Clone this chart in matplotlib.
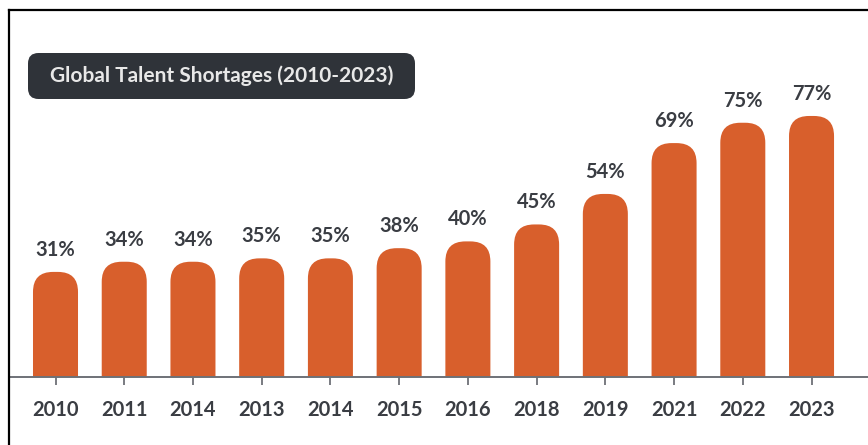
import matplotlib
matplotlib.use("Agg")
import matplotlib.pyplot as plt
from matplotlib.patches import FancyBboxPatch
from matplotlib.lines import Line2D

# Data
years = ["2010", "2011", "2014", "2013", "2014", "2015", "2016",
         "2018", "2019", "2021", "2022", "2023"]
shortage_pct = [31, 34, 34, 35, 35, 38, 40, 45, 54, 69, 75, 77]
title_text = "Global Talent Shortages (2010-2023)"

# Styling
BAR_COLOR = "#D85F2C"
TEXT_COLOR = "#3A3D43"
AXIS_COLOR = "#6E7177"
BOX_COLOR = "#2F3339"
FONT = ["Lato", "DejaVu Sans"]

W, H, DPI = 868, 445, 100
fig = plt.figure(figsize=(W / DPI, H / DPI), dpi=DPI)
fig.patch.set_facecolor("white")

# Axes: baseline at the bottom edge, spanning from the left frame line to the right edge
base_px = 377
top_px = 10
left_px = 9
ax = fig.add_axes([left_px / W, (H - base_px) / H, 1 - left_px / W, (base_px - top_px) / H])
ax.set_facecolor("none")

px_per_unit_y = 3.39
px_per_unit_x = 68.73
first_center_px = 55.5
ax.set_xlim((left_px - first_center_px) / px_per_unit_x, (W - first_center_px) / px_per_unit_x)
ax.set_ylim(0, (base_px - top_px) / px_per_unit_y)

bar_w = 0.655
radius_px = 20
rounding = radius_px / px_per_unit_x
aspect = px_per_unit_x / px_per_unit_y

xs = list(range(len(years)))
for x, v in zip(xs, shortage_pct):
    # extend below the baseline so only the top corners appear rounded
    patch = FancyBboxPatch((x - bar_w / 2, -15), bar_w, v + 15,
                           boxstyle=f"round,pad=0,rounding_size={rounding}",
                           mutation_aspect=aspect,
                           facecolor=BAR_COLOR, edgecolor="none", clip_on=True)
    ax.add_patch(patch)
    ax.annotate(f"{v}%", xy=(x, v), xytext=(0, 16), textcoords="offset points",
                ha="center", va="center", fontsize=14.5, fontweight="bold",
                color=TEXT_COLOR, family=FONT)

for s in ["top", "right", "left"]:
    ax.spines[s].set_visible(False)
ax.spines["bottom"].set_color(AXIS_COLOR)
ax.spines["bottom"].set_linewidth(1.4)
ax.set_yticks([])
ax.set_xticks(xs)
ax.set_xticklabels(years, fontsize=14.5, fontweight="bold", color=TEXT_COLOR, family=FONT)
ax.tick_params(axis="x", length=6, width=1.3, color=AXIS_COLOR, pad=10.5, direction="out")

# Frame lines on the left and top
fig.add_artist(Line2D([left_px / W, left_px / W], [0, 1 - top_px / H],
                      transform=fig.transFigure, color="black", linewidth=1.6))
fig.add_artist(Line2D([left_px / W, 1], [1 - top_px / H, 1 - top_px / H],
                      transform=fig.transFigure, color="black", linewidth=1.6))

# Title badge
bx0, by0, bx1, by1 = 28, 53, 415, 99
badge = FancyBboxPatch((bx0 / W, 1 - by1 / H), (bx1 - bx0) / W, (by1 - by0) / H,
                       boxstyle="round,pad=0,rounding_size=0.012",
                       mutation_aspect=W / H,
                       transform=fig.transFigure, facecolor=BOX_COLOR, edgecolor="none")
fig.add_artist(badge)
fig.text((bx0 + bx1) / 2 / W, 1 - (by0 + by1) / 2 / H, title_text,
         ha="center", va="center", fontsize=15, fontweight="bold",
         color="#E8E8E8", family=FONT)

fig.savefig("out.png", dpi=DPI, facecolor="white")
